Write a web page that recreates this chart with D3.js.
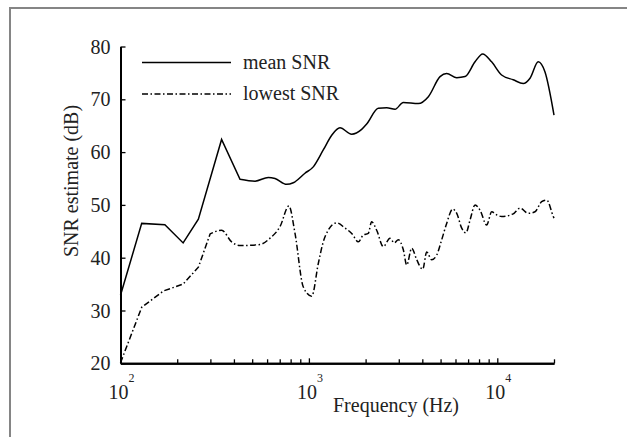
<!DOCTYPE html>
<html><head><meta charset="utf-8">
<script src="https://cdn.jsdelivr.net/npm/d3@7"></script>
<style>body{margin:0;background:#fff}svg{display:block}</style>
</head><body>
<script>
// Frequencies (Hz) and SNR estimates (dB)
const meanFreq = [100,129.6,172,215,259,344,431,518,609,661,762,826,953,1055,1192,1322,1462,1686,1906,2026,2336,2589,2865,3171,3810,4306,4968,5385,6093,6745,7620,8360,9330,10540,12150,13740,14920,16500,17900,20000];
const meanSNR  = [32.9,46.5,46.25,42.8,47.3,62.4,54.85,54.5,55.2,55.0,53.9,54.2,56.0,57.2,60.4,63.2,64.6,63.4,64.3,65.3,68.3,68.4,68.1,69.4,69.2,70.5,74.3,74.9,74.1,74.3,77.1,78.6,77.1,74.6,73.7,73.0,74.0,77.1,75.2,67.0];
const lowFreq = [100,129.6,169,215,259,299,344,389,431,550,622,703,783,844,933,1035,1122,1192,1266,1405,1556,1688,1830,1944,2066,2153,2290,2483,2694,2840,2983,3171,3305,3514,3736,4020,4220,4485,4770,5070,5386,5794,6093,6474,6820,7165,7620,8100,8786,9340,9930,10550,12160,13200,14620,15860,17200,18300,19830,20000];
const lowSNR  = [20.1,30.6,33.7,35.0,38.2,44.5,45.2,43.0,42.3,42.5,43.7,45.9,49.8,44.6,34.5,32.7,38.9,43.0,45.2,46.6,45.6,44.6,43.0,44.3,44.6,46.8,45.2,42.1,43.7,42.8,43.4,41.5,38.6,41.8,39.6,37.8,41.1,39.6,40.5,43.4,46.5,49.2,48.4,45.6,44.7,47.1,50.0,49.0,46.2,48.7,48.1,47.8,48.3,49.4,48.4,48.7,50.6,50.9,47.8,47.5];
const yTicks = [20,30,40,50,60,70,80];
const xMajor = [100,1000,10000];
const xMajorExp = ["2","3","4"];
const xMinor = [200,300,400,500,600,700,800,900,2000,3000,4000,5000,6000,7000,8000,9000,20000];
const seriesNames = ["mean SNR","lowest SNR"];
const xTitle = "Frequency (Hz)";
const yTitle = "SNR estimate (dB)";

const FONT = "Liberation Serif";
const TXT = "#222";
const W = 627, H = 437;
const svg = d3.select("body").append("svg").attr("width", W).attr("height", H)
  .attr("font-family", FONT);

svg.append("rect").attr("x",10).attr("y",8).attr("width",700).attr("height",600)
  .attr("fill","none").attr("stroke","#858585").attr("stroke-width",2);

const x = d3.scaleLog().domain([100,20000]).range([120.5,554]);
const y = d3.scaleLinear().domain([20,80]).range([363.3,46.5]);

// x axis
const gx = svg.append("g").attr("transform",`translate(0,${y(20)})`);
gx.call(d3.axisBottom(x).tickValues(xMinor).tickSize(-4).tickSizeOuter(0).tickFormat(""));
gx.append("g").call(d3.axisBottom(x).tickValues(xMajor).tickSize(-5).tickSizeOuter(0).tickFormat(""));
gx.selectAll("path.domain").attr("stroke","#000").attr("stroke-width",2);
gx.selectAll(".tick line").attr("stroke","#000").attr("stroke-width",1.3);

xMajor.forEach((v,i)=>{
  const t = svg.append("text").attr("x",x(v)+1).attr("y",399).attr("text-anchor","middle")
    .attr("font-size",20).attr("font-family",FONT).attr("fill",TXT);
  t.append("tspan").text("10");
  t.append("tspan").attr("font-size",12).attr("dy",-17).text(xMajorExp[i]);
});

// y axis
const gy = svg.append("g").attr("transform",`translate(${x(100)},0)`);
gy.call(d3.axisLeft(y).tickValues(yTicks).tickSize(-5).tickSizeOuter(0).tickPadding(10));
gy.attr("font-family",FONT);
gy.selectAll("path.domain").attr("stroke","#000").attr("stroke-width",2);
gy.selectAll(".tick line").attr("stroke","#000").attr("stroke-width",1.3);
gy.selectAll(".tick text").attr("font-size",20).attr("font-family",FONT).attr("fill",TXT).attr("dy","0.33em");

svg.append("text").attr("x",396).attr("y",412).attr("text-anchor","middle").attr("font-size",20)
  .attr("font-family",FONT).attr("fill",TXT).text(xTitle);
svg.append("text").attr("transform","translate(78,181) rotate(-90)").attr("text-anchor","middle").attr("font-size",20)
  .attr("font-family",FONT).attr("fill",TXT).text(yTitle);

const meanData = meanFreq.map((f,i)=>[f,meanSNR[i]]);
const lowData = lowFreq.map((f,i)=>[f,lowSNR[i]]);
const dash = "6,2.5,1.5,2.5";

// straight segments at low frequencies, smooth above
function drawSeries(data, splitF, dasharray){
  const lin = d3.line().curve(d3.curveLinear).x(d=>x(d[0])).y(d=>y(d[1]));
  const smo = d3.line().curve(d3.curveMonotoneX).x(d=>x(d[0])).y(d=>y(d[1]));
  const a = data.filter(d=>d[0]<=splitF), b = data.filter(d=>d[0]>=splitF);
  const d = lin(a) + smo(b).replace(/^M/,"L");
  svg.append("path").attr("d",d).attr("fill","none").attr("stroke","#000")
    .attr("stroke-width",1.5).attr("stroke-dasharray",dasharray);
}
drawSeries(meanData, 431, null);
drawSeries(lowData, 299, dash);

// legend
const leg = [[62.5,null],[94,dash]];
leg.forEach((l,i)=>{
  svg.append("line").attr("x1",142).attr("x2",231).attr("y1",l[0]).attr("y2",l[0])
    .attr("stroke","#000").attr("stroke-width",1.5).attr("stroke-dasharray",l[1]);
  svg.append("text").attr("x",243).attr("y",l[0]+6).attr("font-size",20)
    .attr("font-family",FONT).attr("fill",TXT).text(seriesNames[i]);
});
</script>
</body></html>
